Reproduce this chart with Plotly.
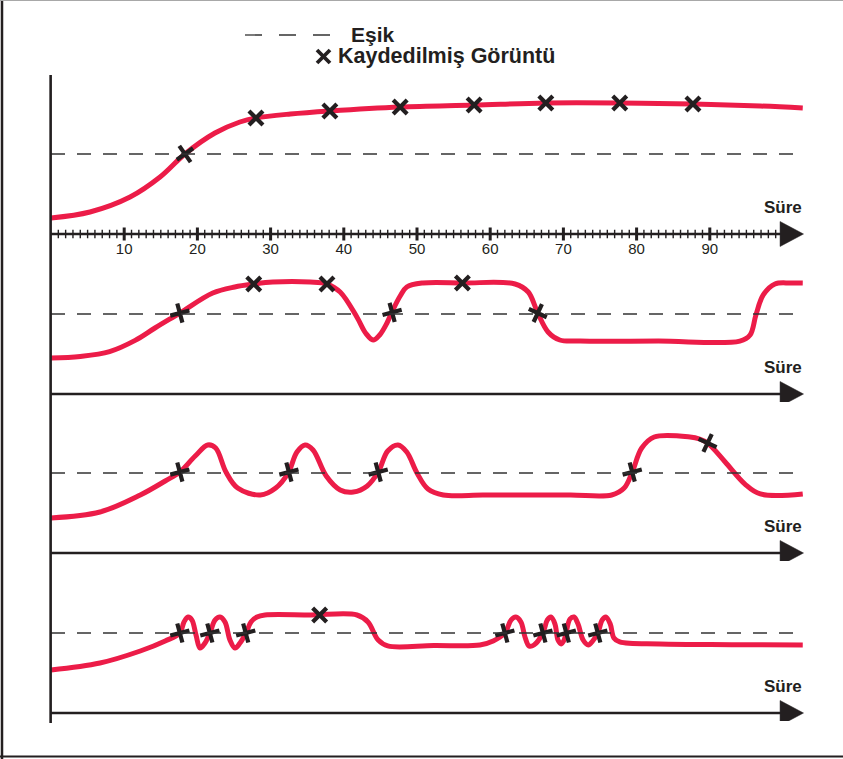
import plotly.graph_objects as go

# ---------------- data ----------------
threshold = 5.0
tick_values = [10, 20, 30, 40, 50, 60, 70, 80, 90]
tick_labels = ["10", "20", "30", "40", "50", "60", "70", "80", "90"]
minor_ticks = [t for t in range(1, 100) if t % 10 != 0]
axis_label = "Süre"
legend_threshold = "Eşik"
legend_marker = "Kaydedilmiş Görüntü"

# panel 1
p1_t = [0, 5.33, 10.8, 14.9, 18.3, 22.4, 25.8, 28.0, 32.7, 38.1, 47.7, 57.8, 67.6, 77.7, 87.7, 96.9, 102.7]
p1_y = [1.0, 1.375, 2.31, 3.56, 5.0, 6.31, 7.0, 7.25, 7.5, 7.69, 7.94, 8.06, 8.19, 8.19, 8.125, 8.0, 7.875]
p1_mt = [18.3, 28.0, 38.1, 47.7, 57.8, 67.6, 77.7, 87.7]
p1_my = [5.0, 7.25, 7.69, 7.94, 8.06, 8.19, 8.19, 8.125]
p1_ma = [10, 0, 0, 0, 0, 0, 0, 0]

# panel 2
p2_t = [0, 4.0, 8.0, 11.5, 14.2, 17.6, 22.1, 25.1, 27.7, 30.3, 35.4, 37.7, 39.5, 41.8, 43.0, 44.0, 44.9,
        45.9, 46.7, 47.7, 48.6, 50.8, 56.3, 63.4, 65.2, 66.5, 67.9, 69.5, 72.3, 83.0, 94.1, 95.5, 96.3,
        97.3, 98.9, 101.0, 102.7]
p2_y = [2.25, 2.35, 2.65, 3.35, 4.125, 5.06, 6.31, 6.69, 6.875, 7.0, 7.0, 6.875, 6.375, 4.8, 3.8, 3.375, 3.69,
        4.44, 5.25, 6.125, 6.69, 6.94, 6.94, 6.875, 6.375, 5.06, 3.875, 3.375, 3.31, 3.31, 3.31, 3.69, 4.94,
        6.19, 6.875, 6.94, 6.94]
p2_mt = [17.6, 27.7, 37.7, 46.6, 56.2, 66.5]
p2_my = [5.06, 6.875, 6.875, 5.1, 6.94, 5.06]
p2_ma = [30, 0, 0, 30, 0, -20]

# panel 3
p3_t = [0, 6.69, 12.2, 15.6, 17.6, 19.7, 21.4, 22.5, 23.9, 25.5, 28.6, 30.7, 32.4, 33.6, 34.7, 35.8,
        37.6, 39.5, 41.3, 43.2, 44.7, 46.0, 47.4, 48.6, 50.0, 51.5, 53.6, 59.0, 65.0, 71.0, 76.6, 78.3,
        79.4, 80.7, 82.4, 87.3, 88.6, 89.7, 92.1, 94.8, 96.9, 102.7]
p3_y = [2.19, 2.56, 3.625, 4.5, 5.06, 6.06, 6.75, 6.56, 5.06, 4.06, 3.625, 4.06, 5.0, 6.31, 6.75, 6.44,
        4.81, 3.94, 3.81, 4.19, 5.06, 6.375, 6.75, 6.31, 5.0, 4.0, 3.625, 3.625, 3.625, 3.625, 3.625, 4.06,
        5.06, 6.56, 7.25, 7.25, 7.125, 6.875, 5.69, 4.31, 3.69, 3.69]
p3_mt = [17.6, 32.5, 44.7, 79.4, 89.7]
p3_my = [5.06, 5.06, 5.06, 5.06, 6.875]
p3_ma = [30, 30, 30, 30, -20]

# panel 4
p4_t = [0, 6.69, 12.2, 15.6, 17.6, 18.17, 18.72, 19.26, 19.81, 20.36, 21.04, 21.72, 22.40, 23.09, 23.77,
        24.45, 25.14, 25.82, 26.64, 27.32, 28.14, 29.23, 35.5, 41.8, 43.3, 44.7, 46.0, 52.3, 58.6, 60.4, 62.0,
        62.84, 63.5, 64.2, 64.75, 65.3, 65.98, 67.2, 67.8, 68.3, 68.85, 69.26, 69.7, 70.1, 70.36,
        70.9, 71.45, 72.0, 72.7, 73.4, 74.0, 74.7, 75.3, 75.8, 76.4, 76.9, 77.7, 83.2, 93.0, 102.7]
p4_y = [2.69, 3.125, 3.875, 4.5, 5.0, 5.69, 6.0, 5.81, 4.875, 4.06, 4.375, 5.0, 5.81, 6.0, 5.69,
        4.56, 4.06, 4.375, 5.0, 5.69, 6.0, 6.125, 6.125, 6.125, 5.69, 4.56, 4.19, 4.22, 4.25, 4.5, 5.0,
        5.81, 6.0, 5.69, 4.75, 4.19, 4.25, 5.0, 5.81, 6.0, 5.56, 4.56, 4.31, 4.56, 5.0,
        5.875, 6.0, 5.56, 4.56, 4.25, 4.5, 5.0, 5.81, 6.0, 5.56, 4.69, 4.44, 4.31, 4.27, 4.25]
p4_mt = [17.6, 21.7, 26.6, 36.7, 62.0, 67.2, 70.4, 74.7]
p4_my = [5.0, 5.0, 5.0, 6.125, 5.0, 5.0, 5.0, 5.0]
p4_ma = [30, 30, 30, 0, 30, 30, 30, 30]

panels = [(p1_t, p1_y, p1_mt, p1_my, p1_ma),
          (p2_t, p2_y, p2_mt, p2_my, p2_ma),
          (p3_t, p3_y, p3_mt, p3_my, p3_ma),
          (p4_t, p4_y, p4_mt, p4_my, p4_ma)]

# ---------------- geometry / style ----------------
W, H = 843, 759
RED = "#ec1c48"
INK = "#231f20"
FONT = "Liberation Sans, Arial, Helvetica, sans-serif"
PX0, PXU = 51.0, 7.32          # pixel of t=0, pixels per time unit
AXIS_PX = [234, 394, 553, 713]  # pixel row of each time axis
UNIT = 16.0                     # pixels per level unit
Y_RANGES = [[-1.6, 9.5], [-0.5, 9.5], [-0.5, 9.5], [-0.5, 9.5]]
T_END = 99.7
T_TIP = 102.8

def paper_y(py):
    return 1 - py / H

def paper_x(px):
    return px / W

fig = go.Figure()
layout_axes = {}
shapes = []
annotations = []

for i, (t, y, mt, my, ma) in enumerate(panels):
    yname = "y" if i == 0 else f"y{i + 1}"
    ykey = "yaxis" if i == 0 else f"yaxis{i + 1}"
    a = AXIS_PX[i]
    r0, r1 = Y_RANGES[i]
    layout_axes[ykey] = dict(domain=[paper_y(a - r0 * UNIT), paper_y(a - r1 * UNIT)],
                             range=[r0, r1], visible=False, fixedrange=True, anchor="x")
    # red curve
    fig.add_trace(go.Scatter(x=t, y=y, xaxis="x", yaxis=yname, mode="lines",
                             line=dict(color=RED, width=5, shape="spline", smoothing=1.0),
                             cliponaxis=False, hoverinfo="skip", showlegend=False))
    # markers
    fig.add_trace(go.Scatter(x=mt, y=my, xaxis="x", yaxis=yname, mode="markers",
                             marker=dict(symbol="x-thin", size=14, angle=ma,
                                         line=dict(color=INK, width=4.2), color=INK),
                             cliponaxis=False, hoverinfo="skip", showlegend=False))
    # threshold
    shapes.append(dict(type="line", xref="x", yref=yname, x0=0, x1=T_TIP, y0=threshold, y1=threshold,
                       line=dict(color="#333333", width=1.3, dash="14px,12px")))
    # time axis + arrow
    shapes.append(dict(type="line", xref="x", yref=yname, x0=0, x1=T_END, y0=0, y1=0,
                       line=dict(color=INK, width=2.6)))
    shapes.append(dict(type="path", xref="x", yref=yname,
                       path=f"M {T_END - 0.1},-0.78 L {T_TIP},0 L {T_END - 0.1},0.78 Z",
                       fillcolor=INK, line=dict(color=INK, width=0.5)))
    annotations.append(dict(x=T_TIP, y=1.65, xref="x", yref=yname, text=axis_label,
                            xanchor="right", yanchor="middle", showarrow=False,
                            font=dict(family=FONT, size=17, color=INK, weight="bold")))
    if i == 0:
        mx, my_ = [], []
        for tv in minor_ticks:
            mx += [tv, tv, None]
            my_ += [-0.26, 0.26, None]
        fig.add_trace(go.Scatter(x=mx, y=my_, xaxis="x", yaxis=yname, mode="lines",
                                 line=dict(color=INK, width=1.4), hoverinfo="skip", showlegend=False))
        Mx, My = [], []
        for tv in tick_values:
            Mx += [tv, tv, None]
            My += [-0.4, 0.4, None]
        fig.add_trace(go.Scatter(x=Mx, y=My, xaxis="x", yaxis=yname, mode="lines",
                                 line=dict(color=INK, width=3), hoverinfo="skip", showlegend=False,
                                 cliponaxis=False))
        fig.add_trace(go.Scatter(x=tick_values, y=[-1.0] * len(tick_values), xaxis="x", yaxis=yname,
                                 mode="text", text=tick_labels, textposition="middle center",
                                 textfont=dict(family=FONT, size=15, color=INK),
                                 hoverinfo="skip", showlegend=False, cliponaxis=False))

# vertical axis spanning all panels
shapes.append(dict(type="line", xref="x", yref="paper", x0=-0.05, x1=-0.05,
                   y0=paper_y(723), y1=paper_y(75), line=dict(color=INK, width=2.6)))

# frame
shapes.append(dict(type="line", xref="paper", yref="paper", x0=paper_x(2), x1=paper_x(2),
                   y0=0, y1=1, line=dict(color=INK, width=2.5)))
shapes.append(dict(type="line", xref="paper", yref="paper", x0=0, x1=1,
                   y0=paper_y(756.5), y1=paper_y(756.5), line=dict(color=INK, width=2)))
shapes.append(dict(type="line", xref="paper", yref="paper", x0=0, x1=1,
                   y0=paper_y(0.5), y1=paper_y(0.5), line=dict(color="#a8a8a8", width=1)))

# legend (drawn)
shapes.append(dict(type="line", xref="paper", yref="paper", x0=paper_x(245), x1=paper_x(330),
                   y0=paper_y(35), y1=paper_y(35), line=dict(color="#333333", width=1.3, dash="17px,17px")))
shapes.append(dict(type="line", xref="paper", yref="paper", x0=paper_x(317), x1=paper_x(330),
                   y0=paper_y(50), y1=paper_y(63), line=dict(color=INK, width=3.8)))
shapes.append(dict(type="line", xref="paper", yref="paper", x0=paper_x(317), x1=paper_x(330),
                   y0=paper_y(63), y1=paper_y(50), line=dict(color=INK, width=3.8)))
annotations.append(dict(x=paper_x(349), y=paper_y(34), xref="paper", yref="paper", text=legend_threshold,
                        xanchor="left", yanchor="middle", showarrow=False,
                        font=dict(family=FONT, size=21, color=INK, weight="bold")))
annotations.append(dict(x=paper_x(336), y=paper_y(56), xref="paper", yref="paper", text=legend_marker,
                        xanchor="left", yanchor="middle", showarrow=False,
                        font=dict(family=FONT, size=21.5, color=INK, weight="bold")))

fig.update_layout(
    width=W, height=H, autosize=False,
    margin=dict(l=0, r=0, t=0, b=0, pad=0),
    paper_bgcolor="white", plot_bgcolor="rgba(0,0,0,0)",
    showlegend=False,
    xaxis=dict(domain=[0, 1], range=[-PX0 / PXU, (W - PX0) / PXU], visible=False, fixedrange=True),
    shapes=shapes, annotations=annotations,
    **layout_axes,
)

fig.write_html("out.html", config={"displayModeBar": False, "staticPlot": True},
               post_script="document.body.style.margin='0';document.body.style.overflow='hidden';")
